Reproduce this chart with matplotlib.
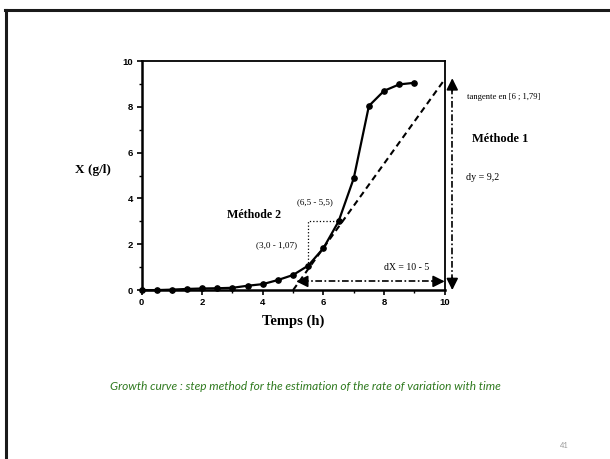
import matplotlib
matplotlib.use("Agg")
import matplotlib.pyplot as plt
from matplotlib.lines import Line2D
from matplotlib.ticker import MultipleLocator

# growth curve readings (time in h, biomass X in g/l)
time_h = [0, 0.5, 1, 1.5, 2, 2.5, 3, 3.5, 4, 4.5, 5, 5.5, 6, 6.5, 7, 7.5, 8, 8.5, 9]
biomass = [0, 0.0, 0.02, 0.05, 0.07, 0.08, 0.1, 0.19, 0.26, 0.44, 0.66, 1.07,
           1.83, 3.0, 4.88, 8.04, 8.7, 8.98, 9.05]

# method 1: tangent, dX = 10 - 5, dy = 9,2
tangent_x = [5, 10]
tangent_y = [0, 9.2]

# method 2: one step on the curve
step_x = [5.5, 5.5, 6.5]
step_y = [1.07, 3.0, 3.0]

serif = "Liberation Serif"
sans = "Liberation Sans"

fig = plt.figure(figsize=(6.1, 4.59), dpi=100)
fig.patch.set_facecolor("white")

# slide frame (top and left edges)
fig.add_artist(Line2D([0.009, 1.0], [0.979, 0.979], transform=fig.transFigure,
                      color="#1a1a1a", lw=2.2))
fig.add_artist(Line2D([0.010, 0.010], [0.0, 0.979], transform=fig.transFigure,
                      color="#1a1a1a", lw=2.2))

ax = fig.add_axes([0.232, 0.368, 0.497, 0.499])
ax.set_xlim(0, 10)
ax.set_ylim(0, 10)

ax.plot(time_h, biomass, "-o", color="black", lw=1.6, ms=3.8, clip_on=False, zorder=5)
ax.plot(tangent_x, tangent_y, color="black", lw=1.5, dashes=(3, 2), clip_on=False, zorder=4)
ax.plot(step_x, step_y, color="black", lw=0.9, ls=":", zorder=3)

# dX arrow along the bottom
arrow_y = 0.38
dash = (4, 1.5, 1, 1.5)
ax.plot([tangent_x[0] + 0.3, tangent_x[1] - 0.3], [arrow_y, arrow_y], color="black",
        lw=1.2, dashes=dash, clip_on=False)
head = dict(arrowstyle="-|>,head_length=0.7,head_width=0.35", color="black", lw=1.2,
            shrinkA=0, shrinkB=0)
ax.annotate("", xy=(tangent_x[0] + 0.1, arrow_y), xytext=(tangent_x[0] + 0.4, arrow_y),
            arrowprops=head, annotation_clip=False)
ax.annotate("", xy=(tangent_x[1], arrow_y), xytext=(tangent_x[1] - 0.4, arrow_y),
            arrowprops=head, annotation_clip=False)

# dy arrow just right of the frame
arrow_x = 10.25
ax.plot([arrow_x, arrow_x], [tangent_y[0] + 0.4, tangent_y[1] - 0.4], color="black",
        lw=1.2, dashes=dash, clip_on=False)
ax.annotate("", xy=(arrow_x, tangent_y[1] + 0.05), xytext=(arrow_x, tangent_y[1] - 0.5),
            arrowprops=head, annotation_clip=False)
ax.annotate("", xy=(arrow_x, tangent_y[0]), xytext=(arrow_x, tangent_y[0] + 0.55),
            arrowprops=head, annotation_clip=False)

# spines and ticks
for side in ("left", "bottom"):
    ax.spines[side].set_linewidth(1.8)
for side in ("top", "right"):
    ax.spines[side].set_linewidth(1.3)
ax.xaxis.set_major_locator(MultipleLocator(2))
ax.xaxis.set_minor_locator(MultipleLocator(1))
ax.yaxis.set_major_locator(MultipleLocator(2))
ax.yaxis.set_minor_locator(MultipleLocator(1))
ax.tick_params(which="major", direction="out", length=3.5, width=1.2, pad=2.5,
               labelsize=6.8, top=False, right=False)
ax.tick_params(which="minor", direction="out", length=2.5, width=1.0,
               top=False, right=False)
for lab in ax.get_xticklabels() + ax.get_yticklabels():
    lab.set_fontfamily(sans)
    lab.set_fontweight("bold")

ax.set_xlabel("Temps (h)", fontfamily=serif, fontweight="bold", fontsize=10.5, labelpad=5)
fig.text(0.153, 0.630, "X (g/l)", fontfamily=serif, fontweight="bold", fontsize=9.5,
         ha="center", va="center")

# annotations
txt = dict(fontfamily=serif, clip_on=False, va="center")
ax.text(2.82, 3.3, "Méthode 2", fontsize=8.6, fontweight="bold", **txt)
ax.text(5.13, 3.85, "(6,5 - 5,5)", fontsize=6.5, **txt)
ax.text(5.13, 1.97, "(3,0 - 1,07)", fontsize=6.6, ha="right", **txt)
ax.text(8.75, 0.98, "dX = 10 - 5", fontsize=7.0, ha="center", **txt)
ax.text(10.74, 8.45, "tangente en [6 ; 1,79]", fontsize=6.2, **txt)
ax.text(10.9, 6.6, "Méthode 1", fontsize=9.0, fontweight="bold", **txt)
ax.text(10.7, 4.93, "dy = 9,2", fontsize=7.2, **txt)

# caption and slide number
fig.text(0.5, 0.157, "Growth curve : step method for the estimation of the rate of variation with time",
         fontfamily="Lato", fontstyle="italic", fontsize=8.6, color="#2f7a1f",
         ha="center", va="center")
fig.text(0.926, 0.030, "41", fontfamily="Lato", fontsize=5.5, color="#9a9a9a",
         ha="center", va="center")

fig.savefig("out.png", dpi=100, facecolor="white")
